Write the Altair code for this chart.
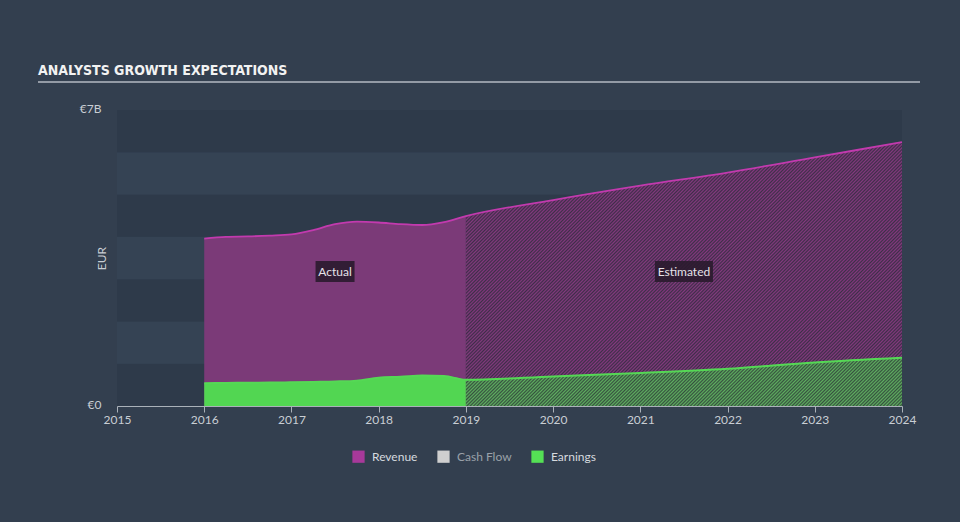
import math
import altair as alt
import pandas as pd

# ---------------- data (EUR billions) ----------------
years_actual = [2016.0, 2016.25, 2016.5, 2016.75, 2017.0, 2017.25, 2017.5,
                2017.75, 2018.0, 2018.25, 2018.5, 2018.75, 2019.0]
revenue_actual = [3.96, 4.00, 4.01, 4.03, 4.06, 4.16, 4.30,
                  4.36, 4.34, 4.30, 4.28, 4.35, 4.49]
earnings_actual = [0.54, 0.545, 0.55, 0.555, 0.56, 0.57, 0.58,
                   0.60, 0.67, 0.69, 0.72, 0.71, 0.62]

years_est = [2019, 2020, 2021, 2022, 2023, 2024]
revenue_est = [4.49, 4.87, 5.21, 5.52, 5.88, 6.24]
earnings_est = [0.62, 0.70, 0.78, 0.88, 1.03, 1.14]

x_ticks = [2015, 2016, 2017, 2018, 2019, 2020, 2021, 2022, 2023, 2024]
y_ticks = [0, 7]
legend_names = ["Revenue", "Cash Flow", "Earnings"]
legend_colors = ["#a8399a", "#cfcfcf", "#55e055"]
phase_labels = ["Actual", "Estimated"]
title_text = "ANALYSTS GROWTH EXPECTATIONS"

# ---------------- layout ----------------
W_PLOT, H_PLOT = 785, 296
X0, X1 = 2015, 2024
Y0, Y1 = 0, 7
px_year = W_PLOT / (X1 - X0)
px_unit = H_PLOT / (Y1 - Y0)

FONT = "Lato"
LABEL_COLOR = "#c9ced4"
BG = "#333f4f"

xscale = alt.Scale(domain=[X0, X1], nice=False, zero=False)
yscale = alt.Scale(domain=[Y0, Y1], nice=False)

x_axis = alt.Axis(values=x_ticks, format="d", title=None, grid=False,
                  domainColor="#aab1b9", domainWidth=1, tickColor="#aab1b9",
                  tickSize=6, tickWidth=1, labelColor=LABEL_COLOR, labelFont=FONT,
                  labelFontSize=12, labelPadding=2, labelFlush=False)
y_axis = alt.Axis(values=y_ticks,
                  labelExpr="datum.value == 0 ? '€0' : '€' + datum.value + 'B'",
                  title="EUR", titleAngle=270, titleX=-16, titleY=H_PLOT / 2,
                  titleAlign="center", titleBaseline="middle", titleFont=FONT,
                  titleFontSize=12, titleFontWeight="normal", titleColor=LABEL_COLOR,
                  grid=False, domain=False, ticks=False, labelPadding=16,
                  labelColor=LABEL_COLOR, labelFont=FONT, labelFontSize=12,
                  labelOffset=-2)


def X(field):
    return alt.X(field, type="quantitative", scale=xscale, axis=x_axis)


def Y(field):
    return alt.Y(field, type="quantitative", scale=yscale, axis=y_axis)


def hatch(c_a, c_b, w, h, period=2.4):
    s = (w + h) / (w * w + h * h)
    n = max(1, int(round((w + h) / math.sqrt(2) / period)))
    stops = []
    for i in range(n):
        stops.append(alt.GradientStop(offset=i / n, color=c_a))
        stops.append(alt.GradientStop(offset=(i + 0.5) / n, color=c_b))
    stops.append(alt.GradientStop(offset=1.0, color=c_a))
    return alt.LinearGradient(gradient="linear", stops=stops,
                              x1=0, y1=0, x2=s * w, y2=s * h)


# ---------------- frames ----------------
bands = pd.DataFrame({
    "lo": list(range(Y0, Y1)),
    "hi": list(range(Y0 + 1, Y1 + 1)),
    "fill": ["#2e3a4a" if i % 2 == 0 else "#354354" for i in range(Y0, Y1)],
})
rev_a = pd.DataFrame({"year": years_actual, "value": revenue_actual})
rev_e = pd.DataFrame({"year": years_est, "value": revenue_est})
ear_a = pd.DataFrame({"year": years_actual, "value": earnings_actual})
ear_e = pd.DataFrame({"year": years_est, "value": earnings_est})
rev_all = pd.DataFrame({"year": years_actual + years_est[1:],
                        "value": revenue_actual + revenue_est[1:]})
ear_all = pd.DataFrame({"year": years_actual + years_est[1:],
                        "value": earnings_actual + earnings_est[1:]})
phases = pd.DataFrame({
    "label": phase_labels,
    "mid": [(years_actual[0] + years_actual[-1]) / 2,
            (years_est[0] + years_est[-1]) / 2],
})
legend_df = pd.DataFrame({"series": legend_names})
title_df = pd.DataFrame({"t": [title_text]})

est_w = (years_est[-1] - years_est[0]) * px_year
rev_hatch = hatch("#85397f", "#3d2e48", est_w, max(revenue_est) * px_unit)
ear_hatch = hatch("#5fb060", "#36503f", est_w, max(earnings_est) * px_unit)

# ---------------- layers ----------------
band_layer = alt.Chart(bands).mark_rect().encode(
    x=alt.value(0), x2=alt.value(W_PLOT),
    y=Y("lo"), y2="hi", fill=alt.Fill("fill:N", scale=None))

rev_a_area = alt.Chart(rev_a).mark_area(interpolate="monotone", color="#7b3a78").encode(
    x=X("year"), y=Y("value"))
rev_e_area = alt.Chart(rev_e).mark_area(interpolate="monotone", fill=rev_hatch).encode(
    x=X("year"), y=Y("value"))
rev_line = alt.Chart(rev_all).mark_line(interpolate="monotone", color="#c23aae",
                                        strokeWidth=1.8).encode(x=X("year"), y=Y("value"))

ear_a_area = alt.Chart(ear_a).mark_area(interpolate="monotone", color="#52d652").encode(
    x=X("year"), y=Y("value"))
ear_e_area = alt.Chart(ear_e).mark_area(interpolate="monotone", fill=ear_hatch).encode(
    x=X("year"), y=Y("value"))
ear_line = alt.Chart(ear_all).mark_line(interpolate="monotone", color="#55d855",
                                        strokeWidth=2).encode(x=X("year"), y=Y("value"))

box_y = 161.5
box_actual = alt.Chart(phases[phases.label == "Actual"]).mark_rect(
    width=39, height=21, color="#2a1b2e", opacity=0.9).encode(
    x=X("mid"), y=alt.value(box_y))
box_est = alt.Chart(phases[phases.label == "Estimated"]).mark_rect(
    width=58, height=21, color="#2a1b2e", opacity=0.9).encode(
    x=X("mid"), y=alt.value(box_y))
phase_text = alt.Chart(phases).mark_text(
    font=FONT, fontSize=12, color="#e6e1e8", baseline="middle", align="center").encode(
    x=X("mid"), y=alt.value(box_y), text="label:N")

title_layer = alt.Chart(title_df).mark_text(
    font="Liberation Sans Narrow, DejaVu Sans Condensed, sans-serif", fontSize=14,
    fontWeight="bold", color="#f2f2f2", align="left", baseline="alphabetic").encode(
    x=alt.value(-79), y=alt.value(-35), text="t:N")
underline = alt.Chart(title_df).mark_rule(color="#b4bac2", strokeWidth=1.5).encode(
    x=alt.value(-79), x2=alt.value(803), y=alt.value(-28))

legend_layer = alt.Chart(legend_df).mark_square(size=150).encode(
    x=alt.value(-600), y=alt.value(-600),
    color=alt.Color("series:N",
                    scale=alt.Scale(domain=legend_names, range=legend_colors),
                    legend=alt.Legend(
                        orient="none", legendX=235, legendY=340,
                        direction="horizontal", title=None, symbolType="square",
                        symbolSize=150, symbolStrokeWidth=0, symbolOpacity=1,
                        labelFont=FONT, labelFontSize=12,
                        labelColor={"expr": "datum.label === 'Cash Flow' ? '#9aa1a9' : '#d6dadf'"},
                        labelOffset=7, columnPadding=19, padding=0)))

chart = alt.layer(
    band_layer, rev_a_area, rev_e_area, rev_line,
    ear_a_area, ear_e_area, ear_line,
    box_actual, box_est, phase_text,
    title_layer, underline, legend_layer,
).properties(
    width=W_PLOT, height=H_PLOT, background=BG,
    padding={"left": 117, "top": 110, "right": 58, "bottom": 116},
    autosize=alt.AutoSizeParams(type="none"),
).configure_view(stroke=None)

chart.save("out.html", embed_options={"renderer": "svg", "actions": False})
